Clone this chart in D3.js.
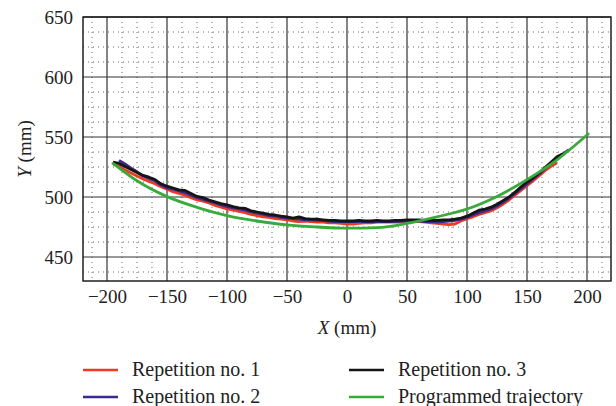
<!DOCTYPE html>
<html>
<head>
<meta charset="utf-8">
<script src="https://cdn.jsdelivr.net/npm/d3@7"></script>
<style>
  body { margin: 0; background: #fff; }
  svg { display: block; font-family: "Liberation Serif", "DejaVu Serif", serif; }
</style>
</head>
<body>
<svg width="616" height="406"></svg>
<script>
// tick labels
var xTicks = [-200, -150, -100, -50, 0, 50, 100, 150, 200];
var yTicks = [450, 500, 550, 600, 650];

// repetition no. 1 (red)
var rep1X = [-195,-190,-185,-180,-175,-170,-165,-160,-155,-150,-145,-140,-135,-130,-125,-120,-115,-110,-105,-100,
  -95,-90,-85,-80,-75,-70,-65,-60,-55,-50,-45,-40,-35,-30,-25,-20,-15,-10,-5,0,
  5,10,15,20,25,30,35,40,45,50,55,60,65,70,75,80,85,90,95,100,
  105,110,115,120,125,130,135,140,145,150,155,160,165,170,175];
var rep1Y = [527.5,525.5,522.5,520,517.5,515,513,511,508.5,506.5,504.5,503,501.5,499.5,497.5,496.5,495,493,491.5,490,
  489,488,487,485.5,484.5,483.5,483,482,481.5,481,480,479.5,480,479.5,479,479,478.5,478.5,478,477.5,
  477.5,478,478.5,478.5,479,479,479,479,479,479,479.5,479.5,479,478.5,478,477.5,477,477.5,480,482,
  483.5,485.5,487,488.5,491,494,497.5,501.5,505.5,509.5,513.5,517.5,522,525.5,528.5];

// repetition no. 2 (blue)
var rep2X = [-190,-185,-180,-175,-170,-165,-160,-155,-150,-145,-140,-135,-130,-125,-120,-115,-110,-105,-100,
  -95,-90,-85,-80,-75,-70,-65,-60,-55,-50,-45,-40,-35,-30,-25,-20,-15,-10,-5,0,
  5,10,15,20,25,30,35,40,45,50,55,60,65,70,75,80,85,90,95,100,
  105,110,115,120,125,130,135,140,145,150,155,160,165,170,175,180,185];
var rep2Y = [530.5,527.5,524,521,517.5,515.5,513.5,510,507.5,506.5,505,503.5,501.5,499.5,498,496.5,495,493.5,492,
  491,490,489,487.5,486.5,485.5,484.5,484,483,482.5,482,481.5,481,481,480.5,480.5,480,479.5,479.5,479.5,
  479.5,479.5,479.5,479.5,479.5,479.5,479.5,479.5,480,480,480,480,479.5,479.5,479,479.5,480,480.5,481.5,483,
  485,487,488.5,490,492.5,495.5,499,503,507,511,515,519,523.5,528,532,536,539.5];

// repetition no. 3 (black)
var rep3X = [-195,-190,-185,-180,-175,-170,-165,-160,-155,-150,-145,-140,-135,-130,-125,-120,-115,-110,-105,-100,
  -95,-90,-85,-80,-75,-70,-65,-60,-55,-50,-45,-40,-35,-30,-25,-20,-15,-10,-5,0,
  5,10,15,20,25,30,35,40,45,50,55,60,65,70,75,80,85,90,95,100,
  105,110,115,120,125,130,135,140,145,150,155,160,165,170,175,180];
var rep3Y = [529,528,525.5,523,520.5,518,516.5,514.5,511,509,507.5,506,505.5,503,500.5,499.5,497.5,496,494.5,493.5,
  492,491,490.5,488.5,487.5,486.5,485.5,485,484,483.5,482.5,483.5,482,481.5,481.5,481,480.5,480.5,480,480,
  480,480.5,480,480,480.5,480,480,480.5,480.5,481,481,481,480.5,480.5,480.5,481,481,481.5,482.5,484,
  486.5,489,490,491.5,494,497,500,504,508.5,512.5,516,520,524.5,529,533.5,536];

// programmed trajectory (green)
var progX = [-195, -175, -150, -125, -100, -75, -50, -25, 0, 25, 50, 75, 100, 125, 150, 175, 201];
var progY = [528, 513.5, 500.3, 491.4, 484.5, 480, 476.7, 475, 474, 474.5, 478, 483.5, 490, 500.5, 514.5, 531, 552.5];

var seriesNames = ["Repetition no. 1", "Repetition no. 2", "Repetition no. 3", "Programmed trajectory"];
var seriesColors = ["#ee3a24", "#3b2a8e", "#151515", "#3aaa3a"];

var svg = d3.select("svg");
var pLeft = 83, pRight = 611, pTop = 17, pBottom = 281;

var x = d3.scaleLinear().domain([-220, 220]).range([pLeft, pRight]);
var y = d3.scaleLinear().domain([430, 650]).range([pBottom, pTop]);

// minor dotted grid
var minorX = d3.range(-212.5, 220, 12.5).filter(function(v) { return v % 50 !== 0; });
var minorY = d3.range(437.5, 650, 12.5).filter(function(v) { return v % 50 !== 0; });

var grid = svg.append("g");
grid.selectAll(".mx").data(minorX).enter().append("line")
  .attr("x1", function(d) { return x(d); }).attr("x2", function(d) { return x(d); })
  .attr("y1", pTop).attr("y2", pBottom)
  .attr("stroke", "#666").attr("stroke-width", 1).attr("stroke-dasharray", "1,4");
grid.selectAll(".my").data(minorY).enter().append("line")
  .attr("y1", function(d) { return y(d); }).attr("y2", function(d) { return y(d); })
  .attr("x1", pLeft).attr("x2", pRight)
  .attr("stroke", "#666").attr("stroke-width", 1).attr("stroke-dasharray", "1,4");

// major grid
grid.selectAll(".Mx").data(xTicks).enter().append("line")
  .attr("x1", function(d) { return x(d); }).attr("x2", function(d) { return x(d); })
  .attr("y1", pTop).attr("y2", pBottom)
  .attr("stroke", "#333").attr("stroke-width", 1.2);
grid.selectAll(".My").data(yTicks).enter().append("line")
  .attr("y1", function(d) { return y(d); }).attr("y2", function(d) { return y(d); })
  .attr("x1", pLeft).attr("x2", pRight)
  .attr("stroke", "#333").attr("stroke-width", 1.2);

// curves
var line = d3.line()
  .x(function(d) { return x(d[0]); })
  .y(function(d) { return y(d[1]); });

var reps = [[rep1X, rep1Y], [rep2X, rep2Y], [rep3X, rep3Y]];
reps.forEach(function(r, i) {
  svg.append("path")
    .datum(d3.zip(r[0], r[1]))
    .attr("d", line)
    .attr("fill", "none")
    .attr("stroke", seriesColors[i])
    .attr("stroke-width", 2.8)
    .attr("stroke-linejoin", "round");
});

svg.append("path")
  .datum(d3.zip(progX, progY))
  .attr("d", line.curve(d3.curveMonotoneX))
  .attr("fill", "none")
  .attr("stroke", seriesColors[3])
  .attr("stroke-width", 2.8)
  .attr("stroke-linecap", "round");

// frame
svg.append("rect")
  .attr("x", pLeft).attr("y", pTop)
  .attr("width", pRight - pLeft).attr("height", pBottom - pTop)
  .attr("fill", "none").attr("stroke", "#111").attr("stroke-width", 1.4);

// axes
var xAxis = svg.append("g")
  .attr("transform", "translate(0," + pBottom + ")")
  .call(d3.axisBottom(x).tickValues(xTicks).tickSize(0).tickPadding(9));
var yAxis = svg.append("g")
  .attr("transform", "translate(" + pLeft + ",0)")
  .call(d3.axisLeft(y).tickValues(yTicks).tickSize(0).tickPadding(10));
[xAxis, yAxis].forEach(function(a) {
  a.select(".domain").remove();
  a.selectAll("text").attr("font-family", "Liberation Serif").attr("font-size", 19).attr("fill", "#222");
});

// axis titles
var xt = svg.append("text")
  .attr("x", 347).attr("y", 334)
  .attr("text-anchor", "middle").attr("font-size", 19).attr("fill", "#222");
xt.append("tspan").attr("font-style", "italic").text("X");
xt.append("tspan").text(" (mm)");

var yt = svg.append("text")
  .attr("transform", "translate(31,149) rotate(-90)")
  .attr("text-anchor", "middle").attr("font-size", 19).attr("fill", "#222");
yt.append("tspan").attr("font-style", "italic").text("Y");
yt.append("tspan").text(" (mm)");

// legend
var legendPos = [[83, 370], [83, 397], [349, 370], [349, 397]];
var legend = svg.append("g");
seriesNames.forEach(function(name, i) {
  var p = legendPos[i];
  legend.append("line")
    .attr("x1", p[0]).attr("x2", p[0] + 35)
    .attr("y1", p[1]).attr("y2", p[1])
    .attr("stroke", seriesColors[i]).attr("stroke-width", 2.6);
  legend.append("text")
    .attr("x", p[0] + 49).attr("y", p[1] + 6)
    .attr("font-size", 20).attr("fill", "#222")
    .text(name);
});
</script>
</body>
</html>
